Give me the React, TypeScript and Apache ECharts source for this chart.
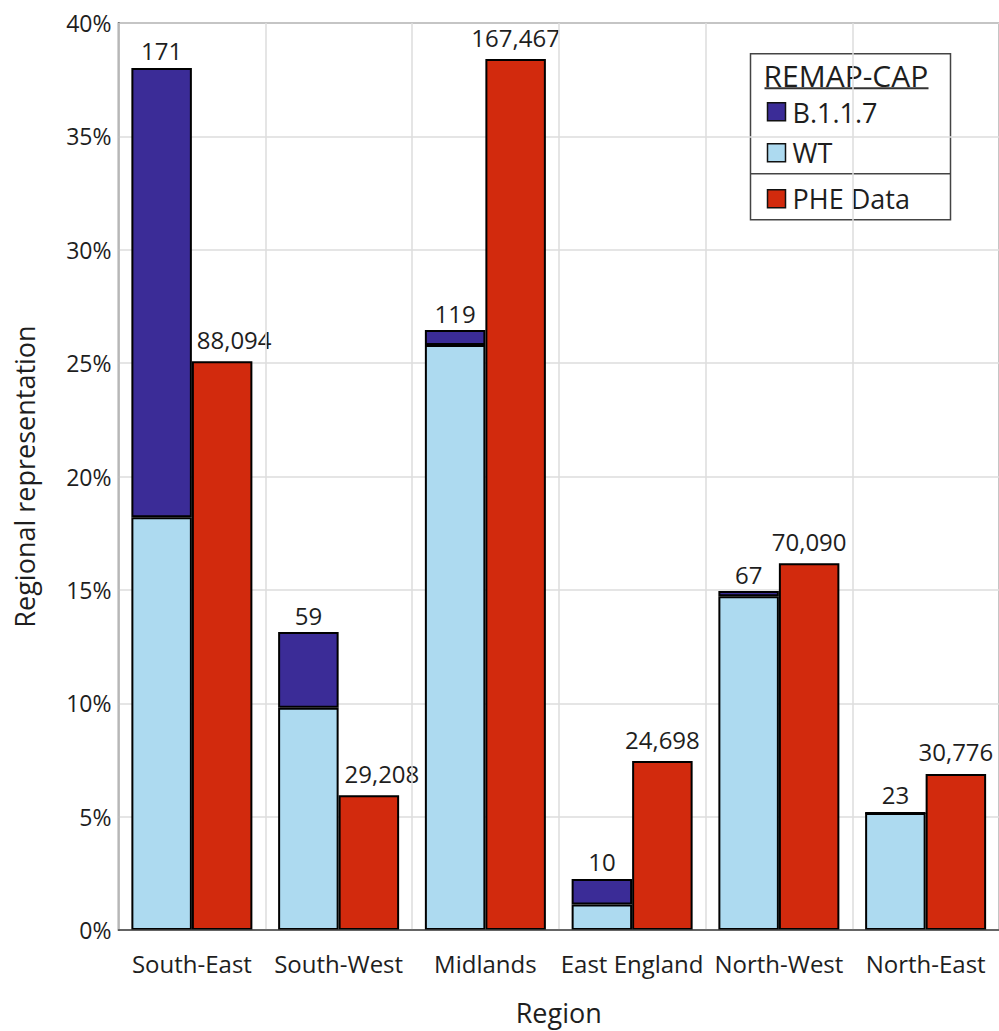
import React, { useEffect, useRef } from "react";
import * as echarts from "echarts";

const regions = ["South-East", "South-West", "Midlands", "East England", "North-West", "North-East"];
const wtShare = [18.2, 9.8, 25.8, 1.13, 14.72, 5.16];
const b117Share = [19.82, 3.34, 0.66, 1.12, 0.23, 0];
const pheShare = [25.08, 5.94, 38.41, 7.45, 16.17, 6.88];
const remapCounts = ["171", "59", "119", "10", "67", "23"];
const pheCounts = ["88,094", "29,208", "167,467", "24,698", "70,090", "30,776"];
const pheLabelShift = [12, 13, 0, 0, 0, 0];
const yTicks = [0, 5, 10, 15, 20, 25, 30, 35, 40];

const C_B117 = "#3B2C97";
const C_WT = "#ADDAF0";
const C_PHE = "#D22A0D";
const FONT = "'Open Sans', 'DejaVu Sans', sans-serif";
const TXT = "#1e1e1e";

export default function App() {
  const ref = useRef<HTMLDivElement>(null);
  useEffect(() => {
    if (!ref.current) return;
    const chart = echarts.init(ref.current, undefined, { renderer: "svg" });
    const border = { borderColor: "#000", borderWidth: 2 };
    chart.setOption({
      animation: false,
      backgroundColor: "#fff",
      textStyle: { fontFamily: FONT, color: TXT },
      grid: {
        left: 118.5,
        right: -5,
        top: 23,
        bottom: 101,
        show: true,
        borderColor: "#555",
        borderWidth: 1.5,
        backgroundColor: "transparent",
      },
      xAxis: {
        type: "category",
        data: regions,
        axisLine: { show: true, lineStyle: { color: "#444", width: 1.5 } },
        axisTick: { show: false },
        splitLine: { show: true, lineStyle: { color: "#dcdcdc", width: 1.5 } },
        axisLabel: { color: TXT, fontSize: 24, fontFamily: FONT, margin: 21, interval: 0 },
        name: "Region",
        nameLocation: "middle",
        nameGap: 69,
        nameTextStyle: { color: TXT, fontSize: 27, fontFamily: FONT },
        z: 5,
      },
      yAxis: {
        type: "value",
        min: yTicks[0],
        max: yTicks[yTicks.length - 1],
        interval: 5,
        axisLine: { show: true, lineStyle: { color: "#444", width: 1.5 } },
        axisTick: { show: false },
        splitLine: { show: true, lineStyle: { color: "#dcdcdc", width: 1.5 } },
        axisLabel: { color: TXT, fontSize: 23, fontFamily: FONT, margin: 7, formatter: "{value}%" },
        name: "Regional representation",
        nameLocation: "middle",
        nameGap: 81,
        nameTextStyle: { color: TXT, fontSize: 27, fontFamily: FONT },
      },
      series: [
        {
          name: "WT",
          type: "bar",
          stack: "remap",
          barWidth: 60.5,
          barGap: "0%",
          data: wtShare,
          itemStyle: { color: C_WT, ...border },
        },
        {
          name: "B.1.1.7",
          type: "bar",
          stack: "remap",
          barWidth: 60.5,
          barGap: "0%",
          data: b117Share,
          itemStyle: { color: C_B117, ...border },
          label: {
            show: true,
            position: "top",
            distance: 5,
            color: TXT,
            fontSize: 24,
            fontFamily: FONT,
            formatter: (p: any) => remapCounts[p.dataIndex],
          },
        },
        {
          name: "PHE Data",
          type: "bar",
          barWidth: 60.5,
          barGap: "0%",
          data: pheShare.map((v, i) => ({
            value: v,
            label: { offset: [pheLabelShift[i], 0] },
          })),
          itemStyle: { color: C_PHE, ...border },
          label: {
            show: true,
            position: "top",
            distance: 10,
            color: TXT,
            fontSize: 24,
            fontFamily: FONT,
            formatter: (p: any) => pheCounts[p.dataIndex],
          },
        },
      ],
      graphic: [
        {
          type: "group",
          left: 748,
          top: 53,
          z: 100,
          children: [
            { type: "rect", shape: { x: 0, y: 0, width: 200, height: 166 }, style: { fill: "#fff", stroke: "#444", lineWidth: 1.5 } },
            { type: "text", x: 13, y: 22, style: { text: "REMAP-CAP", font: `30px ${FONT}`, fill: TXT, verticalAlign: "middle" } },
            { type: "line", shape: { x1: 14, y1: 34.5, x2: 178, y2: 34.5 }, style: { stroke: "#333", lineWidth: 2 } },
            { type: "rect", shape: { x: 17, y: 49, width: 18, height: 18 }, style: { fill: C_B117, stroke: "#111", lineWidth: 1.5 } },
            { type: "text", x: 42, y: 59, style: { text: "B.1.1.7", font: `27px ${FONT}`, fill: TXT, verticalAlign: "middle" } },
            { type: "rect", shape: { x: 17, y: 90, width: 18, height: 18 }, style: { fill: C_WT, stroke: "#111", lineWidth: 1.5 } },
            { type: "text", x: 42, y: 99, style: { text: "WT", font: `27px ${FONT}`, fill: TXT, verticalAlign: "middle" } },
            { type: "line", shape: { x1: 0, y1: 120, x2: 200, y2: 120 }, style: { stroke: "#444", lineWidth: 1.5 } },
            { type: "rect", shape: { x: 17, y: 136, width: 18, height: 18 }, style: { fill: C_PHE, stroke: "#111", lineWidth: 1.5 } },
            { type: "text", x: 42, y: 145, style: { text: "PHE Data", font: `27px ${FONT}`, fill: TXT, verticalAlign: "middle" } },
          ],
        },
      ],
    });
    return () => chart.dispose();
  }, []);
  return <div ref={ref} style={{ position: "fixed", left: 0, top: 0, width: 999, height: 1031, overflow: "hidden" }} />;
}
